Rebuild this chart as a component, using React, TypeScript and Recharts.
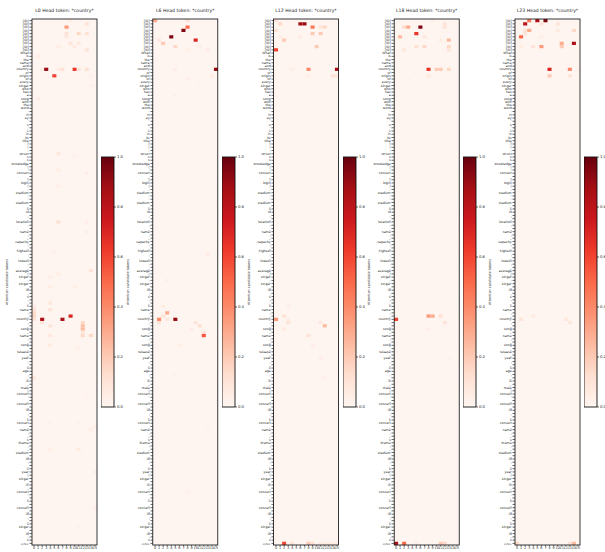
import React from "react";
import {
  ScatterChart,
  Scatter,
  XAxis,
  YAxis,
  CartesianGrid,
  BarChart,
  Bar,
} from "recharts";

// token labels on the y axis (162 rows)
const TOKENS = [
  "[ID]", "[ID]", "[ID]", "[ID]", "[ID]", "[ID]", "[ID]", "[ID]", "[ID]", "[ID]",
  "What", "is", "the", "name", "and", "country", "of", "origin", "of", "every",
  "singer", "who", "has", "a", "song", "with", "the", "word", "'", "H",
  "ey", "'", "s", "'", "1", "in", "its", "title", "?", "|",
  ":", "struct", "s", "s", "knowledge", "|", ":", "concert", "_", "|",
  "login", "|", ":", "stadium", ":", ":", "stadium", "_", "s", "id",
  ",", "_", "location", ",", "_", "name", ",", "_", "capacity", ",",
  "_", "highest", ",", "_", "lowest", ",", "_", "average", "|", "singer",
  ":", "singer", "_", "id", ",", "s", ",", "_", "s", "name",
  ",", "_", "country", ",", "_", "song", "_", "name", ",", "_",
  "song", "_", "release", "_", "year", ",", "_", "s", "age", ",",
  "_", "is", "_", "male", "|", "concert", ":", "_", "concert", "_",
  "id", ",", "_", "s", "concert", "_", "name", ",", "_", "s",
  "theme", ",", "_", "stadium", "_", "id", ",", "_", "s", "year",
  "|", "singer", "_", "in", "_", "concert", ":", "_", "s", "_",
  "concert", "_", "id", ",", "_", "s", "singer", "_", "id", ",",
  "s", "</s>",
];
const HEADS = [0, 1, 2, 3, 4, 5, 6, 7, 8, 9, 10, 11, 12, 13, 14, 15];
const LAYERS = ["L0", "L6", "L12", "L18", "L23"];
const CBAR_TICKS = [0, 0.2, 0.4, 0.6, 0.8, 1.0];

// [row, head, weight]
const l0Cells = [
  [0, 9, 0.05], [1, 13, 0.1], [2, 8, 0.35], [4, 8, 0.1], [4, 11, 0.15], [4, 13, 0.12],
  [5, 8, 0.08], [7, 9, 0.1], [7, 11, 0.07], [8, 10, 0.06], [8, 6, 0.05], [9, 13, 0.1],
  [11, 1, 0.05], [15, 2, 0.05], [15, 3, 0.9], [15, 6, 0.05], [15, 7, 0.12], [15, 10, 0.65],
  [15, 11, 0.1], [15, 13, 0.12], [17, 5, 0.6], [17, 14, 0.03], [20, 14, 0.03], [24, 1, 0.04],
  [41, 6, 0.08], [42, 10, 0.03], [46, 6, 0.05], [47, 13, 0.04], [51, 6, 0.04], [62, 6, 0.12],
  [62, 13, 0.04], [65, 13, 0.04], [71, 5, 0.03], [77, 14, 0.1], [78, 6, 0.05], [79, 4, 0.04],
  [82, 4, 0.05], [82, 10, 0.04], [87, 4, 0.08], [88, 0, 0.06], [89, 0, 0.1], [89, 4, 0.1],
  [90, 0, 0.14], [91, 9, 0.7], [91, 0, 0.15], [92, 2, 0.85], [92, 7, 0.85], [92, 0, 0.1],
  [93, 2, 0.1], [93, 12, 0.15], [94, 12, 0.24], [94, 4, 0.1], [95, 12, 0.25], [96, 12, 0.08],
  [97, 4, 0.08], [97, 12, 0.15], [97, 14, 0.15], [100, 4, 0.06], [101, 11, 0.04], [110, 0, 0.08],
  [116, 13, 0.03], [124, 4, 0.03], [124, 11, 0.03], [125, 15, 0.04], [126, 14, 0.05],
  [132, 4, 0.04], [132, 11, 0.06], [139, 15, 0.04], [150, 15, 0.04], [156, 11, 0.03],
];
const l6Cells = [
  [0, 0, 0.3], [0, 8, 0.1], [2, 8, 0.5], [3, 7, 0.95], [5, 4, 0.95], [6, 10, 0.7],
  [6, 1, 0.08], [7, 2, 0.2], [8, 5, 0.15], [9, 8, 0.04], [8, 11, 0.04], [9, 13, 0.05],
  [15, 15, 0.9], [15, 5, 0.04], [17, 14, 0.05], [18, 8, 0.04], [20, 11, 0.03], [23, 5, 0.04],
  [72, 13, 0.05], [80, 3, 0.04], [88, 2, 0.05], [90, 3, 0.3], [91, 2, 0.1], [92, 1, 0.4],
  [92, 3, 0.08], [92, 5, 0.9], [93, 1, 0.1], [93, 10, 0.1], [94, 11, 0.12], [95, 9, 0.05],
  [96, 12, 0.1], [97, 12, 0.55], [100, 6, 0.04], [109, 5, 0.03], [126, 13, 0.03], [145, 8, 0.03],
];
const l12Cells = [
  [0, 0, 0.1], [1, 1, 0.15], [1, 6, 0.88], [1, 7, 0.9], [2, 9, 0.45], [2, 11, 0.1],
  [2, 12, 0.15], [3, 0, 0.1], [4, 9, 0.2], [4, 11, 0.2], [5, 6, 0.06], [5, 1, 0.05],
  [6, 2, 0.2], [8, 10, 0.2], [9, 0, 0.6], [15, 4, 0.04], [15, 8, 0.4], [15, 15, 0.85],
  [17, 8, 0.04], [17, 14, 0.1], [17, 15, 0.08], [88, 3, 0.04], [91, 2, 0.1], [92, 0, 0.35],
  [92, 3, 0.05], [93, 3, 0.1], [93, 11, 0.08], [94, 12, 0.25], [95, 2, 0.06], [97, 8, 0.1],
  [100, 9, 0.04], [104, 11, 0.04], [110, 12, 0.03], [161, 2, 0.6], [161, 4, 0.1], [161, 8, 0.2],
  [161, 9, 0.12], [161, 11, 0.05], [161, 12, 0.05], [161, 13, 0.05], [161, 14, 0.05], [161, 15, 0.05],
];
const l18Cells = [
  [0, 9, 0.04], [1, 12, 0.1], [2, 2, 0.15], [2, 3, 0.3], [2, 6, 0.95], [2, 12, 0.1],
  [4, 5, 0.65], [5, 1, 0.25], [5, 7, 0.08], [6, 11, 0.06], [6, 13, 0.25], [8, 5, 0.12],
  [8, 7, 0.15], [8, 13, 0.15], [9, 13, 0.1], [9, 2, 0.08], [15, 8, 0.65], [15, 10, 0.2],
  [15, 11, 0.2], [15, 13, 0.15], [17, 8, 0.07], [18, 3, 0.03], [91, 8, 0.35], [91, 9, 0.3],
  [91, 11, 0.12], [92, 0, 0.6], [93, 12, 0.1], [95, 8, 0.04], [104, 13, 0.03],
  [161, 0, 0.85], [161, 2, 0.5], [161, 5, 0.05], [161, 11, 0.2], [161, 12, 0.15],
];
const l23Cells = [
  [0, 3, 0.45], [0, 5, 0.85], [0, 7, 0.95], [1, 2, 0.8], [1, 6, 0.1], [1, 10, 0.1],
  [3, 2, 0.1], [3, 3, 0.3], [3, 10, 0.07], [3, 14, 0.15], [4, 2, 0.1], [5, 1, 0.5],
  [5, 6, 0.04], [7, 11, 0.3], [7, 14, 0.85], [8, 1, 0.05], [8, 4, 0.1], [8, 6, 0.35],
  [8, 11, 0.2], [15, 8, 0.7], [15, 13, 0.4], [15, 15, 0.03], [17, 8, 0.2], [17, 13, 0.1],
  [91, 4, 0.06], [92, 1, 0.1], [92, 12, 0.08], [93, 13, 0.08], [161, 0, 0.15], [161, 13, 0.1],
  [161, 14, 0.25],
];
const PANEL_CELLS = [l0Cells, l6Cells, l12Cells, l18Cells, l23Cells];

// matplotlib "Reds"
const REDS = ["#fff5f0", "#fee0d2", "#fcbba1", "#fc9272", "#fb6a4a", "#ef3b2c", "#cb181d", "#a50f15", "#67000d"];

function hex(c: string) {
  return [1, 3, 5].map((i) => parseInt(c.slice(i, i + 2), 16));
}
function reds(v: number) {
  const t = Math.max(0, Math.min(1, v)) * 8;
  const i = Math.min(7, Math.floor(t));
  const f = t - i;
  const a = hex(REDS[i]);
  const b = hex(REDS[i + 1]);
  const m = a.map((x, k) => Math.round(x + (b[k] - x) * f));
  return `rgb(${m[0]},${m[1]},${m[2]})`;
}

const FONT = "DejaVu Sans, sans-serif";
const PLOT_TOP = 19;
const PLOT_H = 526;
const PLOT_W = 65;
const STEP = 120.75;
const FIRST_LEFT = 32;
const N = TOKENS.length;
const CW = PLOT_W / HEADS.length;
const RH = PLOT_H / N;
const ROWS = TOKENS.map((_, i) => i);

const HeatCell = (p: any) => (
  <rect x={p.cx - CW / 2} y={p.cy - RH / 2} width={CW} height={RH} fill={reds(p.payload.v)} />
);

// opacity < 1 keeps tiny text in greyscale antialiasing
const layerStyle = { opacity: 0.999 };

function Panel({ idx }: { idx: number }) {
  const left = FIRST_LEFT + idx * STEP;
  const data = PANEL_CELLS[idx].map(([r, c, v]) => ({ r, c, v }));
  return (
    <div style={{ position: "absolute", left: left - 32, top: 0, ...layerStyle }}>
      <ScatterChart width={PLOT_W + 34} height={552} margin={{ top: PLOT_TOP, right: 2, bottom: 0, left: 0 }}>
        <CartesianGrid horizontal={false} vertical={false} fill={REDS[0]} fillOpacity={1} />
        <XAxis
          type="number"
          dataKey="c"
          domain={[-0.5, 15.5]}
          ticks={HEADS}
          interval={0}
          height={7}
          tickSize={1.5}
          tickMargin={0}
          axisLine={false}
          tickLine={{ stroke: "#000", strokeWidth: 0.6 }}
          tick={{ fontSize: 3.4, fill: "#222", stroke: "none", fontFamily: FONT }}
          allowDataOverflow
        />
        <YAxis
          type="number"
          dataKey="r"
          domain={[-0.5, N - 0.5]}
          reversed
          ticks={ROWS}
          interval={0}
          width={32}
          tickSize={2.5}
          tickMargin={0.8}
          axisLine={false}
          tickLine={{ stroke: "#000", strokeWidth: 0.6 }}
          tickFormatter={(i: number) => TOKENS[i]}
          tick={{ fontSize: 3.2, fill: "#222", stroke: "none", fontFamily: FONT }}
          allowDataOverflow
        />
        <Scatter data={data} shape={HeatCell} isAnimationActive={false} />
      </ScatterChart>
    </div>
  );
}

function ColorBar({ idx }: { idx: number }) {
  const left = FIRST_LEFT + idx * STEP + PLOT_W + 4;
  const gid = `cbar${idx}`;
  return (
    <div style={{ position: "absolute", left, top: 153, ...layerStyle }}>
      <BarChart width={13 + 18} height={258} data={[{ k: "cb", v: 1 }]} margin={{ top: 4, right: 0, bottom: 4, left: 0 }} barCategoryGap={0}>
        <defs>
          <linearGradient id={gid} x1="0" y1="1" x2="0" y2="0">
            {REDS.map((c, i) => (
              <stop key={i} offset={`${(i / 8) * 100}%`} stopColor={c} />
            ))}
          </linearGradient>
        </defs>
        <XAxis dataKey="k" hide />
        <YAxis
          orientation="right"
          domain={[0, 1]}
          ticks={CBAR_TICKS}
          interval={0}
          width={18}
          tickSize={2}
          tickMargin={1}
          axisLine={false}
          tickLine={{ stroke: "#000", strokeWidth: 0.6 }}
          tickFormatter={(v: number) => v.toFixed(1)}
          tick={{ fontSize: 3.8, fill: "#222", stroke: "none", fontFamily: FONT }}
        />
        <Bar dataKey="v" fill={`url(#${gid})`} stroke="#111" strokeWidth={0.9} isAnimationActive={false} />
      </BarChart>
    </div>
  );
}

export default function App() {
  return (
    <div style={{ position: "absolute", left: 0, top: 0, width: 605, height: 552, background: "#fff", overflow: "hidden" }}>
      {LAYERS.map((_, i) => (
        <Panel key={`p${i}`} idx={i} />
      ))}
      {LAYERS.map((_, i) => (
        <ColorBar key={`c${i}`} idx={i} />
      ))}
      <svg width={605} height={552} style={{ position: "absolute", left: 0, top: 0, pointerEvents: "none", ...layerStyle }}>
        {LAYERS.map((name, i) => {
          const left = FIRST_LEFT + i * STEP;
          return (
            <g key={name} fontFamily={FONT}>
              <rect x={left} y={PLOT_TOP} width={PLOT_W} height={PLOT_H} fill="none" stroke="#222" strokeWidth={0.9} />
              <text x={left + PLOT_W / 2} y={11.5} textAnchor="middle" fontSize={4.6} fill="#222">
                {`${name}  Head token: *country*`}
              </text>
              <text
                x={left - 24}
                y={PLOT_TOP + PLOT_H / 2}
                textAnchor="middle"
                fontSize={3.4}
                fill="#222"
                transform={`rotate(-90 ${left - 24} ${PLOT_TOP + PLOT_H / 2})`}
              >
                Attention candidate tokens
              </text>
            </g>
          );
        })}
      </svg>
    </div>
  );
}
